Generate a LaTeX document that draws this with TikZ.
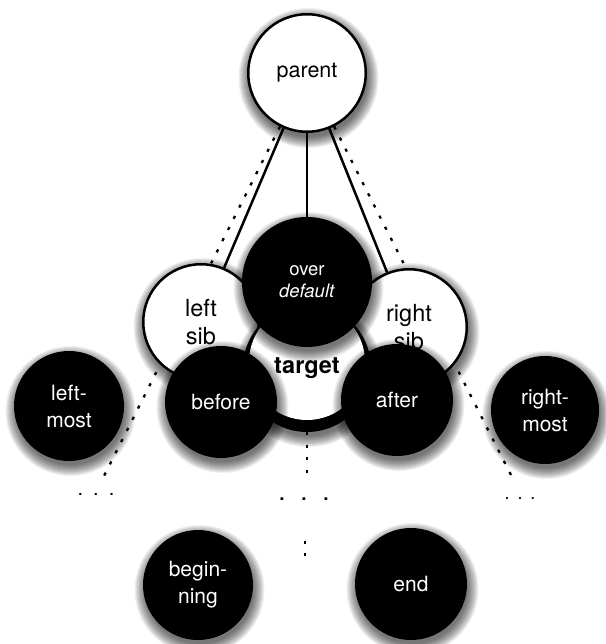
\documentclass[tikz,border=0pt]{standalone}
\usepackage{fontspec}
\setmainfont{TeX Gyre Heros}
\usetikzlibrary{backgrounds}

\tikzset{
  disc/.style={circle, inner sep=0pt, align=center, font=\fontsize{21}{27}\selectfont},
  dark/.style={disc, fill=black, text=white},
  light/.style={disc, fill=white, draw=black, line width=2.5pt, text=black},
  link/.style={line width=2.5pt},
  dotline/.style={line width=2.3pt, dash pattern=on 3.2pt off 9.3pt},
  dots/.style={inner sep=0pt, font=\fontsize{20}{20}\selectfont},
}

% soft drop shade under a disc: centre x, centre y, radius (all in pt)
\newcommand\softshade[3]{%
  \foreach \k in {0,...,11}{%
    \fill[black,opacity=0.06] (#1+1.5,#2+5) circle[radius={(#3+10-\k)*1pt}];}}

\begin{document}
\begin{tikzpicture}[x=1pt,y=-1pt]
\useasboundingbox (0,0) rectangle (605,644);

% parent
\softshade{307}{73}{60}
\node[light, minimum size=117.5pt, font=\fontsize{21.5}{27}\selectfont] (parent) at (307,73) {parent};

% outermost siblings
\softshade{69}{406}{55}
\node[dark, minimum size=110pt] (leftmost) at (69,406) {left-\\most};
\softshade{545}{410}{54}
\node[dark, minimum size=108pt] (rightmost) at (545,410) {right-\\most};

% direct siblings
\softshade{201}{322}{59}
\node[light, minimum size=115.5pt, font=\fontsize{23.5}{28}\selectfont] (leftsib) at (201,322) {left\\sib};
\softshade{409}{327}{59}
\node[light, minimum size=115.5pt, font=\fontsize{23.5}{28}\selectfont] (rightsib) at (409,327) {right\\sib};

% target: black ring with white core
\softshade{307}{368}{64}
\node[disc, fill=black, minimum size=128pt] (target) at (307,368) {};
\node[disc, fill=white, minimum size=116pt, font=\fontsize{23.5}{28}\selectfont\bfseries] (targetcore) at (307,362) {\raisebox{-11pt}[0pt][0pt]{target}};

% insertion positions around the target
\softshade{307}{282}{65}
\node[dark, minimum size=130pt, font=\fontsize{18.5}{22}\selectfont] (over) at (307,282) {over\\\textit{default}};
\softshade{221}{402}{56}
\node[dark, minimum size=112pt] (before) at (221,402) {before};
\softshade{397}{400}{56}
\node[dark, minimum size=112pt] (after) at (397,400) {after};

% first and last child
\softshade{198}{585}{55}
\node[dark, minimum size=110pt] (beginning) at (198,585) {begin-\\ning};
\softshade{411}{584}{56}
\node[dark, minimum size=112pt] (endnode) at (411,584) {end};

% connectors behind the discs
\begin{scope}[on background layer]
  \fill[white] (0,0) rectangle (605,644);
  \coordinate (leftfar) at (103,478);
  \coordinate (rightfar) at (512,477);
  \draw[dotline] (parent) -- (leftfar);
  \draw[dotline] (parent) -- (rightfar);
  \draw[link] (parent) -- (leftsib);
  \draw[link] (parent) -- (over);
  \draw[link] (parent) -- (rightsib);
\end{scope}

% children of the target
\coordinate (midfoot) at (307,476);
\draw[dotline] (target) -- (midfoot);
\coordinate (lowtop) at (305,540.5);
\coordinate (lowbot) at (305,556);
\draw[dotline] (lowtop) -- (lowbot);

% elided runs
\node[dots] (leftdots) at (96,494) {.\kern10pt.\kern10pt.};
\node[dots, font=\fontsize{26}{26}\selectfont] (middots) at (304,499) {.\kern14.8pt.\kern14.8pt.};
\node[dots, font=\fontsize{18}{18}\selectfont] (rightdots) at (520,499) {.\kern8pt.\kern8pt.};
\end{tikzpicture}
\end{document}
